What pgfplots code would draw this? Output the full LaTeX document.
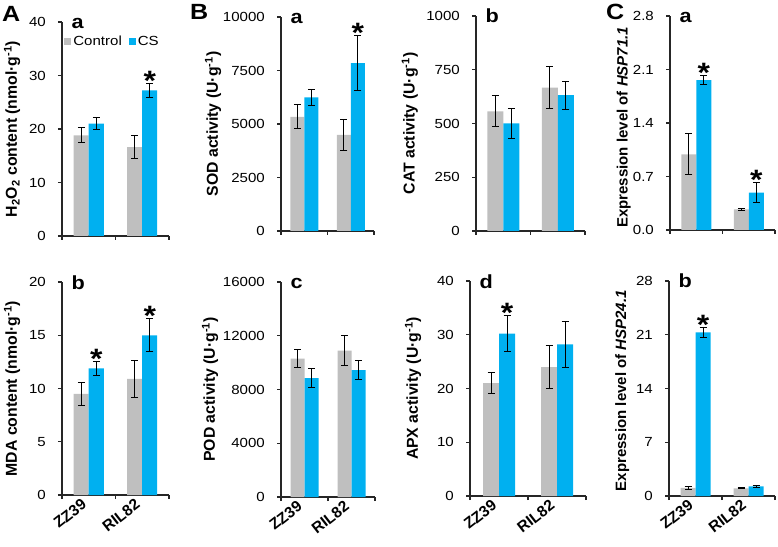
\documentclass[border=0pt]{standalone}
\usepackage{pgfplots}
\pgfplotsset{compat=1.18}
\usepackage{fontspec}
\setmainfont{Liberation Sans}[FakeStretch=1.14]
\newfontfamily\labfont{Liberation Sans}
\definecolor{ctrlgray}{RGB}{191,191,191}
\definecolor{csblue}{RGB}{0,176,240}

\newcommand\tickfont{\fontsize{13.2}{15}\selectfont}
\newcommand\labelfont{\labfont\bfseries\fontsize{15.8}{18}\selectfont}
\newcommand\catfont{\labfont\bfseries\fontsize{15.5}{17}\selectfont}
\newcommand\panelfont{\bfseries\fontsize{19}{20}\selectfont}
\newcommand\bigfont{\bfseries\fontsize{22}{24}\selectfont}
\newcommand\starfont{\bfseries\fontsize{28}{30}\selectfont}

\tikzset{
  panelletter/.style={anchor=base west, font=\panelfont, xshift=6pt, yshift=-7pt},
  sigstar/.style={anchor=base, font=\starfont, inner sep=0pt, yshift=-7pt},
}

\pgfplotsset{
  panel/.style={
    scale only axis, anchor=south west,
    xmin=0, xmax=2, ymin=0,
    axis lines*=left,
    axis line style={line width=1.3pt, black!85},
    ybar=0pt, bar width=15pt,
    tick align=outside, major tick length=4pt,
    every tick/.style={black!85, line width=1.1pt},
    xtick={0,1,2}, xticklabels={},
    scaled y ticks=false,
    tick label style={font=\tickfont},
    yticklabel style={inner sep=0pt, xshift=-12pt},
    ylabel style={anchor=center, font=\labelfont},
    clip=false,
  },
  bottomrow/.style={
    extra x ticks={0.5,1.5},
    extra x tick labels={ZZ39,RIL82},
    extra x tick style={major tick length=0pt,
      xticklabel style={rotate=38, anchor=east, font=\catfont, inner sep=0pt, yshift=-3pt, xshift=-8pt}},
  },
  errs/.style={
    error bars/y dir=both, error bars/y explicit,
    error bars/error bar style={draw=black, line width=1pt},
    error bars/error mark options={rotate=90, draw=black, line width=1pt, mark size=3.5pt}},
  ctrl/.style={fill=ctrlgray, draw=none, errs},
  cs/.style={fill=csblue, draw=none, errs},
}

\begin{document}
\begin{tikzpicture}
\useasboundingbox (0,0) rectangle (778pt,546pt);

% A-a: H2O2
\begin{axis}[panel, at={(62pt,310pt)}, width=107pt, height=214pt,
  ymax=40, ytick={0,10,20,30,40}, yticklabels={0,10,20,30,40},
  ylabel={H\textsubscript{2}O\textsubscript{2} content (nmol·g\textsuperscript{-1})},
  ylabel style={at={(rel axis cs:-0.467,0.5)}},
  legend style={draw=none, fill=none, at={(rel axis cs:0.02,0.91)}, anchor=west,
    font=\tickfont, inner sep=0pt},
  legend columns=2,
  /tikz/every even column/.append style={column sep=5pt},
]
\addplot[ctrl, legend image code/.code={\fill[ctrlgray] (0pt,-3.5pt) rectangle (7pt,3.5pt);}]
  coordinates {(0.5,18.8) +- (0,1.4) (1.5,16.6) +- (0,2.1)};
\addplot[cs, legend image code/.code={\fill[csblue] (0pt,-3.5pt) rectangle (7pt,3.5pt);}]
  coordinates {(0.5,21.0) +- (0,1.1) (1.5,27.2) +- (0,1.3)};
\legend{Control,CS}
\node[sigstar, xshift=7.5pt] at (axis cs:1.5,28.5) {*};
\node[panelletter] at (rel axis cs:0,1) {a};
\end{axis}

% A-b: MDA
\begin{axis}[panel, bottomrow, at={(62pt,51pt)}, width=107pt, height=213pt,
  ymax=20, ytick={0,5,10,15,20}, yticklabels={0,5,10,15,20},
  ylabel={MDA content (nmol·g\textsuperscript{-1})},
  ylabel style={at={(rel axis cs:-0.467,0.5)}},
]
\addplot[ctrl] coordinates {(0.5,9.5) +- (0,1.1) (1.5,10.9) +- (0,1.7)};
\addplot[cs] coordinates {(0.5,11.9) +- (0,0.65) (1.5,15.0) +- (0,1.55)};
\node[sigstar, xshift=7.5pt] at (axis cs:0.5,12.55) {*};
\node[sigstar, xshift=7.5pt] at (axis cs:1.5,16.55) {*};
\node[panelletter] at (rel axis cs:0,1) {b};
\end{axis}

% B-a: SOD
\begin{axis}[panel, at={(281pt,315pt)}, width=93pt, height=214pt, bar width=14pt,
  ymax=10000, ytick={0,2500,5000,7500,10000}, yticklabels={0,2500,5000,7500,10000},
  ylabel={SOD activity (U·g\textsuperscript{-1})},
  ylabel style={at={(rel axis cs:-0.731,0.5)}},
]
\addplot[ctrl] coordinates {(0.5,5330) +- (0,560) (1.5,4490) +- (0,720)};
\addplot[cs] coordinates {(0.5,6240) +- (0,380) (1.5,7850) +- (0,1280)};
\node[sigstar, xshift=7pt] at (axis cs:1.5,9130) {*};
\node[panelletter] at (rel axis cs:0,1) {a};
\end{axis}

% B-b: CAT
\begin{axis}[panel, at={(476pt,315pt)}, width=109pt, height=215pt, bar width=16pt,
  ymax=1000, ytick={0,250,500,750,1000}, yticklabels={0,250,500,750,1000},
  ylabel={CAT activity (U·g\textsuperscript{-1})},
  ylabel style={at={(rel axis cs:-0.606,0.5)}},
]
\addplot[ctrl] coordinates {(0.5,556) +- (0,72) (1.5,667) +- (0,97)};
\addplot[cs] coordinates {(0.5,500) +- (0,72) (1.5,632) +- (0,65)};
\node[panelletter] at (rel axis cs:0,1) {b};
\end{axis}

% B-c: POD
\begin{axis}[panel, bottomrow, at={(281pt,49pt)}, width=94pt, height=215pt, bar width=14pt,
  ymax=16000, ytick={0,4000,8000,12000,16000}, yticklabels={0,4000,8000,12000,16000},
  ylabel={POD activity (U·g\textsuperscript{-1})},
  ylabel style={at={(rel axis cs:-0.755,0.5)}},
]
\addplot[ctrl] coordinates {(0.5,10300) +- (0,670) (1.5,10900) +- (0,1100)};
\addplot[cs] coordinates {(0.5,8850) +- (0,720) (1.5,9450) +- (0,680)};
\node[panelletter] at (rel axis cs:0,1) {c};
\end{axis}

% B-d: APX
\begin{axis}[panel, bottomrow, at={(470pt,50pt)}, width=116pt, height=215pt, bar width=16pt,
  ymax=40, ytick={0,10,20,30,40}, yticklabels={0,10,20,30,40},
  ylabel={APX activity (U·g\textsuperscript{-1})},
  ylabel style={at={(rel axis cs:-0.491,0.5)}},
]
\addplot[ctrl] coordinates {(0.5,21.0) +- (0,2.0) (1.5,24.0) +- (0,4.0)};
\addplot[cs] coordinates {(0.5,30.2) +- (0,3.3) (1.5,28.2) +- (0,4.3)};
\node[sigstar, xshift=8pt] at (axis cs:0.5,33.5) {*};
\node[panelletter] at (rel axis cs:0,1) {d};
\end{axis}

% C-a: HSP71.1
\begin{axis}[panel, at={(670pt,316pt)}, width=105pt, height=214pt,
  ymax=2.8, ytick={0,0.7,1.4,2.1,2.8}, yticklabels={0.0,0.7,1.4,2.1,2.8},
  ylabel={Expression level of \textit{HSP71.1}},
  ylabel style={at={(rel axis cs:-0.44,0.48)}, font=\labfont\bfseries\fontsize{15}{17}\selectfont},
]
\addplot[ctrl] coordinates {(0.5,0.99) +- (0,0.27) (1.5,0.27) +- (0,0.01)};
\addplot[cs] coordinates {(0.5,1.96) +- (0,0.06) (1.5,0.49) +- (0,0.125)};
\node[sigstar, xshift=7.5pt] at (axis cs:0.5,2.02) {*};
\node[sigstar, xshift=7.5pt] at (axis cs:1.5,0.615) {*};
\node[panelletter] at (rel axis cs:0,1) {a};
\end{axis}

% C-b: HSP24.1
\begin{axis}[panel, bottomrow, at={(669pt,50pt)}, width=106pt, height=215pt,
  ymax=28, ytick={0,7,14,21,28}, yticklabels={0,7,14,21,28},
  ylabel={Expression level of \textit{HSP24.1}},
  ylabel style={at={(rel axis cs:-0.44,0.49)}, font=\labfont\bfseries\fontsize{15}{17}\selectfont},
]
\addplot[ctrl] coordinates {(0.5,1.05) +- (0,0.15) (1.5,1.0) +- (0,0.08)};
\addplot[cs] coordinates {(0.5,21.3) +- (0,0.6) (1.5,1.25) +- (0,0.12)};
\node[sigstar, xshift=7.5pt] at (axis cs:0.5,21.9) {*};
\node[panelletter] at (rel axis cs:0,1) {b};
\end{axis}

\node[anchor=base west, font=\bigfont, inner sep=0pt] at (2pt,524pt) {A};
\node[anchor=base west, font=\bigfont, inner sep=0pt] at (190pt,526pt) {B};
\node[anchor=base west, font=\bigfont, inner sep=0pt] at (606pt,526pt) {C};
\end{tikzpicture}
\end{document}
